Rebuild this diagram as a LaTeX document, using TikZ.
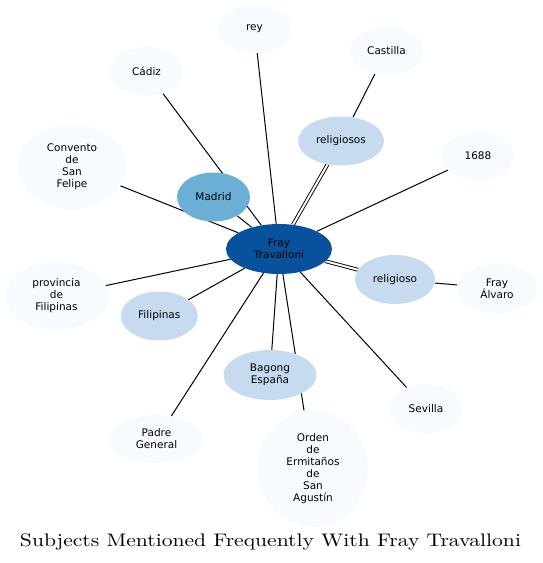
\documentclass[tikz,border=0pt]{standalone}
\usepackage{fontspec}
\setsansfont{DejaVu Sans}
\usetikzlibrary{shapes.geometric,backgrounds}
\definecolor{cDark}{HTML}{08519C}
\definecolor{cMid}{HTML}{6BAED6}
\definecolor{cLight}{HTML}{C6DBEF}
\definecolor{cPale}{HTML}{F7FBFF}
\begin{document}
\begin{tikzpicture}[x=1pt,y=-1pt,
  nd/.style={ellipse, inner sep=0pt, align=center, text=black,
             font=\sffamily\fontsize{10.5}{12}\selectfont},
  pale/.style={nd, fill=cPale},
  light/.style={nd, fill=cLight},
  mid/.style={nd, fill=cMid},
  dark/.style={nd, fill=cDark},
  sz/.style 2 args={minimum width=#1pt, minimum height=#2pt},
  edge/.style={draw=black, line width=1pt},
  dbl/.style={draw=black, double=white, double distance=2pt, line width=0.9pt}]
\useasboundingbox (0,0) rectangle (542,563);

\node[dark,  sz={106}{50}] (ft)   at (279,249)   {Fray\\Travalloni};
\node[pale,  sz={73}{48}]  (rey)  at (254.5,29)  {rey};
\node[pale,  sz={73}{49}]  (cad)  at (146.5,71.5){Cádiz};
\node[pale,  sz={73}{48}]  (cas)  at (386.5,51)  {Castilla};
\node[light, sz={86}{49}]  (rls)  at (341,141)   {religiosos};
\node[pale,  sz={72}{49}]  (y88)  at (478,156)   {1688};
\node[pale,  sz={108}{85}] (con)  at (72,166.5)  {Convento\\de\\San\\Felipe};
\node[mid,   sz={73}{49}]  (mad)  at (213.5,197) {Madrid};
\node[light, sz={80}{49}]  (rl)   at (395,279.5) {religioso};
\node[pale,  sz={80}{49}]  (alv)  at (497,288.5) {Fray\\Álvaro};
\node[pale,  sz={103}{68}] (prov) at (56.5,296)  {provincia\\de\\Filipinas};
\node[light, sz={77}{49}]  (fil)  at (159.3,316) {Filipinas};
\node[light, sz={93}{50}]  (bag)  at (270,375)   {Bagong\\España};
\node[pale,  sz={73}{49}]  (sev)  at (426,408.5) {Sevilla};
\node[pale,  sz={93}{48}]  (pad)  at (156.5,439) {Padre\\General};
\node[pale,  sz={110}{117}](ord)  at (313,468.5) {Orden\\de\\Ermitaños\\de\\San\\Agustín};

\node[inner sep=0pt, font=\rmfamily] (title) at (270.5,541.5)
  {\resizebox{501pt}{12.8pt}{Subjects Mentioned Frequently With Fray Travalloni}};

\begin{pgfonlayer}{background}
  \draw[edge] (ft) -- (rey);
  \draw[edge] (ft) -- (cad);
  \draw[edge] (ft) -- (mad);
  \draw[edge] (ft) -- (con);
  \draw[dbl]  (ft) -- (rls);
  \draw[edge] (rls) -- (cas);
  \draw[edge] (ft) -- (y88);
  \draw[dbl]  (ft) -- (rl);
  \draw[edge] (rl) -- (alv);
  \draw[edge] (ft) -- (prov);
  \draw[edge] (ft) -- (fil);
  \draw[edge] (ft) -- (bag);
  \draw[edge] (ft) -- (ord);
  \draw[edge] (ft) -- (sev);
  \draw[edge] (ft) -- (pad);
\end{pgfonlayer}
\end{tikzpicture}
\end{document}
